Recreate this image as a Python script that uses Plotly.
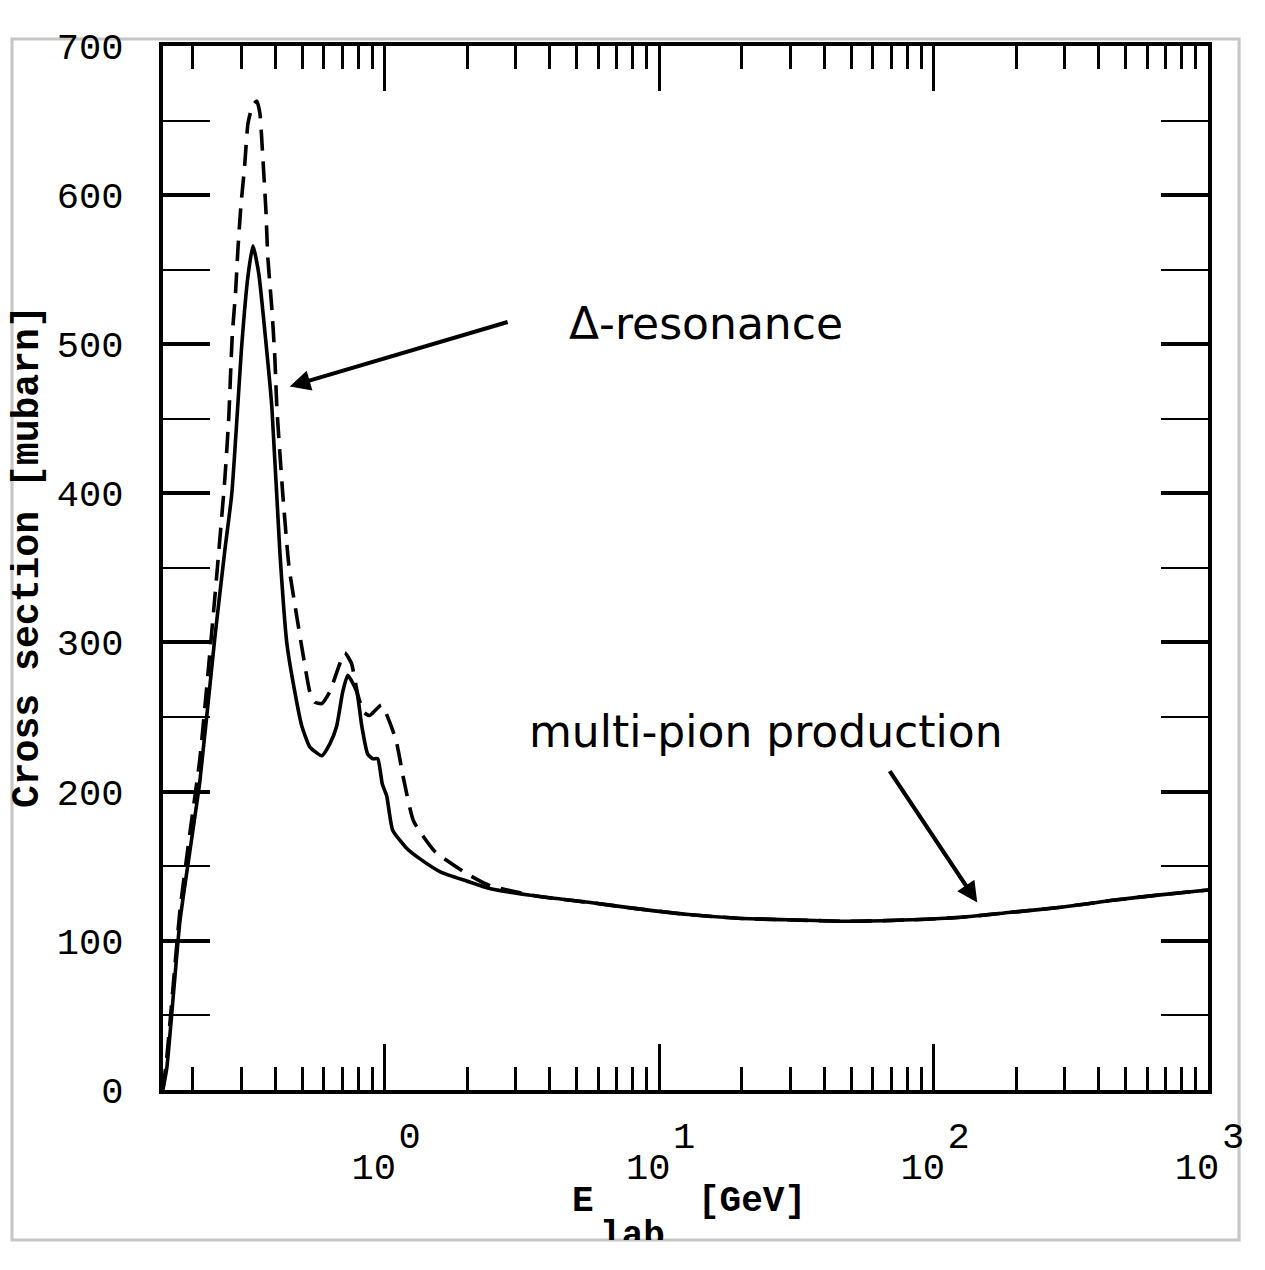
import math
import plotly.graph_objects as go

# ---------------- data ----------------
solid_E = [0.1555, 0.1608, 0.1794, 0.195, 0.2121, 0.2404, 0.2616, 0.2773, 0.3016, 0.3172,
           0.331, 0.3478, 0.3688, 0.3879, 0.4148, 0.4396, 0.4702, 0.4987, 0.5333, 0.5898,
           0.631, 0.6686, 0.7033, 0.7334, 0.7907, 0.8248, 0.8671, 0.905, 0.943, 0.98,
           1.017, 1.069, 1.202, 1.341, 1.6, 1.988, 2.41, 3.67, 5.53, 8.4,
           12.8, 19.4, 29.3, 48.5, 83.3, 126.0, 191.7, 291.0, 441.7, 668.0, 1000.0]
solid_sigma = [0, 15, 113, 160, 207, 303, 362, 400, 500, 545,
               566, 547, 502, 458, 361, 300, 267, 244, 230, 224,
               232, 244, 267, 278, 267, 244, 225, 222, 222, 205,
               197, 174, 162, 155, 146, 140, 135, 129.6, 125.7, 121.3,
               117.5, 115, 114, 113, 114, 115.7, 119, 122.4, 126.9, 130.7, 134]

dashed_E = [0.1555, 0.1608, 0.1794, 0.195, 0.2121, 0.2404, 0.2616, 0.2705, 0.2737, 0.2783,
            0.2862, 0.2917, 0.299, 0.3086, 0.3175, 0.33, 0.342, 0.3508, 0.3597, 0.3688,
            0.3751, 0.3879, 0.3978, 0.4045, 0.425, 0.4478, 0.4747, 0.5018, 0.5333, 0.556,
            0.59, 0.631, 0.715, 0.7563, 0.798, 0.84, 0.882, 0.973, 1.097, 1.173,
            1.275, 1.52, 1.988, 2.41, 3.67, 5.53, 8.4, 12.8, 19.4, 29.3,
            48.5, 83.3, 126.0, 191.7, 291.0, 441.7, 668.0, 1000.0]
dashed_sigma = [0, 22, 120, 172, 222, 330, 410, 452, 475, 506,
                535, 563, 592, 619, 648, 660, 663, 655, 625, 591,
                558, 524, 491, 458, 400, 351, 321, 294, 267, 260,
                259, 267, 293, 286, 265, 253, 251, 258, 235, 208,
                180, 160, 145, 137, 129.6, 125.7, 121.3, 117.5, 115, 114,
                113, 114, 115.7, 119, 122.4, 126.9, 130.7, 134]

x_major_vals = [1, 10, 100, 1000]
x_major_text = ["10", "10", "10", "10"]
x_exp_text = ["0", "1", "2", "3"]
x_minor_vals = [m * 10 ** d for d in (-1, 0, 1, 2) for m in range(2, 10)]
y_major_vals = [0, 100, 200, 300, 400, 500, 600, 700]
y_minor_vals = [50, 150, 250, 350, 450, 550, 650]

# ---------------- layout geometry ----------------
# The photographed page shows the figure scaled by ~0.97 and shifted down ~16px;
# target positions below are given in photo pixels and converted here.
SX = 0.973
SY = 0.969
OY = 16.0
K = 2 / (SX + SY)
W, H = 1298, 1290
def fx(px):
    return (px / SX) / W
def fy(py):
    return 1 - ((py - OY) / SY) / H
def k(v):
    return v * K
def ki(v):
    return int(round(v * K))

X_RANGE = [math.log10(0.1555), 3]
MONO = "Liberation Mono"
LABEL_FONT = "DejaVu Sans"

fig = go.Figure()
fig.add_trace(go.Scatter(x=solid_E, y=solid_sigma, mode="lines",
                         line=dict(color="black", width=k(3.5), shape="spline", smoothing=0.5),
                         xaxis="x", yaxis="y", showlegend=False, hoverinfo="skip"))
fig.add_trace(go.Scatter(x=dashed_E, y=dashed_sigma, mode="lines",
                         line=dict(color="black", width=k(3.5), dash="21px,11px",
                                   shape="spline", smoothing=0.5),
                         xaxis="x2", yaxis="y", showlegend=False, hoverinfo="skip"))
# clipped subscript of the x title
fig.add_trace(go.Scatter(x=[633], y=[1237], mode="text", text=["lab"],
                         textfont=dict(family=MONO, size=k(35), color="black", weight="bold"),
                         cliponaxis=True, xaxis="x3", yaxis="y3",
                         showlegend=False, hoverinfo="skip"))

axis_common = dict(showgrid=False, zeroline=False, color="black")

fig.update_layout(
    width=W, height=H,
    margin=dict(l=0, r=0, t=0, b=0),
    paper_bgcolor="white", plot_bgcolor="rgba(0,0,0,0)",
    xaxis=dict(type="log", range=X_RANGE, domain=[fx(163), fx(1209)], anchor="y",
               showline=True, linewidth=k(4), linecolor="black", mirror="allticks",
               ticks="inside", ticklen=k(44), tickwidth=k(3), tickcolor="black",
               tickmode="array", tickvals=x_major_vals, ticktext=x_major_text,
               tickfont=dict(family=MONO, size=k(36), color="black"),
               ticklabelshift=ki(-11), ticklabelstandoff=ki(40),
               minor=dict(ticks="inside", ticklen=k(22), tickwidth=k(2.5), tickcolor="black",
                          tickvals=x_minor_vals),
               **axis_common),
    xaxis2=dict(type="log", range=X_RANGE, overlaying="x", anchor="y", side="bottom",
                showline=False, ticks="", tickmode="array", tickvals=x_major_vals,
                ticktext=x_exp_text, tickfont=dict(family=MONO, size=k(36), color="black"),
                ticklabelshift=ki(24), ticklabelstandoff=ki(19), **axis_common),
    yaxis=dict(range=[0, 700], domain=[fy(1089.5), fy(44)], anchor="x",
               showline=True, linewidth=k(4), linecolor="black", mirror="allticks",
               ticks="inside", ticklen=k(46), tickwidth=k(3.5), tickcolor="black",
               tickmode="array", tickvals=y_major_vals,
               tickfont=dict(family=MONO, size=k(36), color="black"),
               ticklabelstandoff=ki(27),
               minor=dict(ticks="inside", ticklen=k(22), tickwidth=k(2), tickcolor="black",
                          tickvals=y_minor_vals),
               **axis_common),
    xaxis3=dict(domain=[fx(540), fx(740)], range=[540, 740], anchor="y3", visible=False),
    yaxis3=dict(domain=[fy(1240), fy(1140)], range=[1240, 1140], anchor="x3", visible=False),
)

# slide decoration: light frame
shapes = [
    dict(type="rect", xref="paper", yref="paper", x0=fx(12), x1=fx(1240), y0=fy(1240), y1=fy(37),
         fillcolor="rgba(0,0,0,0)", line=dict(color="#c6c6c6", width=k(3)), layer="below"),
]
fig.update_layout(shapes=shapes)

annotations = [
    # y title
    dict(xref="paper", yref="paper", x=fx(27), y=fy(555), text="Cross section [mubarn]",
         textangle=-90, showarrow=False, xanchor="center", yanchor="middle",
         font=dict(family=MONO, size=k(37), color="black", weight="bold")),
    # x title (first line)
    dict(xref="paper", yref="paper", x=fx(570), y=fy(1201), text="E",
         showarrow=False, xanchor="left", yanchor="middle",
         font=dict(family=MONO, size=k(35), color="black", weight="bold")),
    dict(xref="paper", yref="paper", x=fx(697), y=fy(1201), text="[GeV]",
         showarrow=False, xanchor="left", yanchor="middle",
         font=dict(family=MONO, size=k(35), color="black", weight="bold")),
    # text labels
    dict(xref="paper", yref="paper", x=fx(707), y=fy(322), text="\u0394-resonance",
         showarrow=False, xanchor="center", yanchor="middle",
         font=dict(family=LABEL_FONT, size=44, color="black")),
    dict(xref="paper", yref="paper", x=fx(767), y=fy(731), text="multi-pion production",
         showarrow=False, xanchor="center", yanchor="middle",
         font=dict(family=LABEL_FONT, size=44, color="black")),
    # arrows
    dict(xref="paper", yref="paper", x=fx(290), y=fy(385), ax=k(213), ay=k(-63),
         axref="pixel", ayref="pixel", text="", showarrow=True,
         arrowhead=2, arrowsize=1, arrowwidth=k(4), arrowcolor="black", standoff=0),
    dict(xref="paper", yref="paper", x=fx(978), y=fy(902), ax=k(-86), ay=k(-129),
         axref="pixel", ayref="pixel", text="", showarrow=True,
         arrowhead=2, arrowsize=1, arrowwidth=k(4), arrowcolor="black", standoff=0),
]
fig.update_layout(annotations=annotations)

fig.write_html("out.html")
